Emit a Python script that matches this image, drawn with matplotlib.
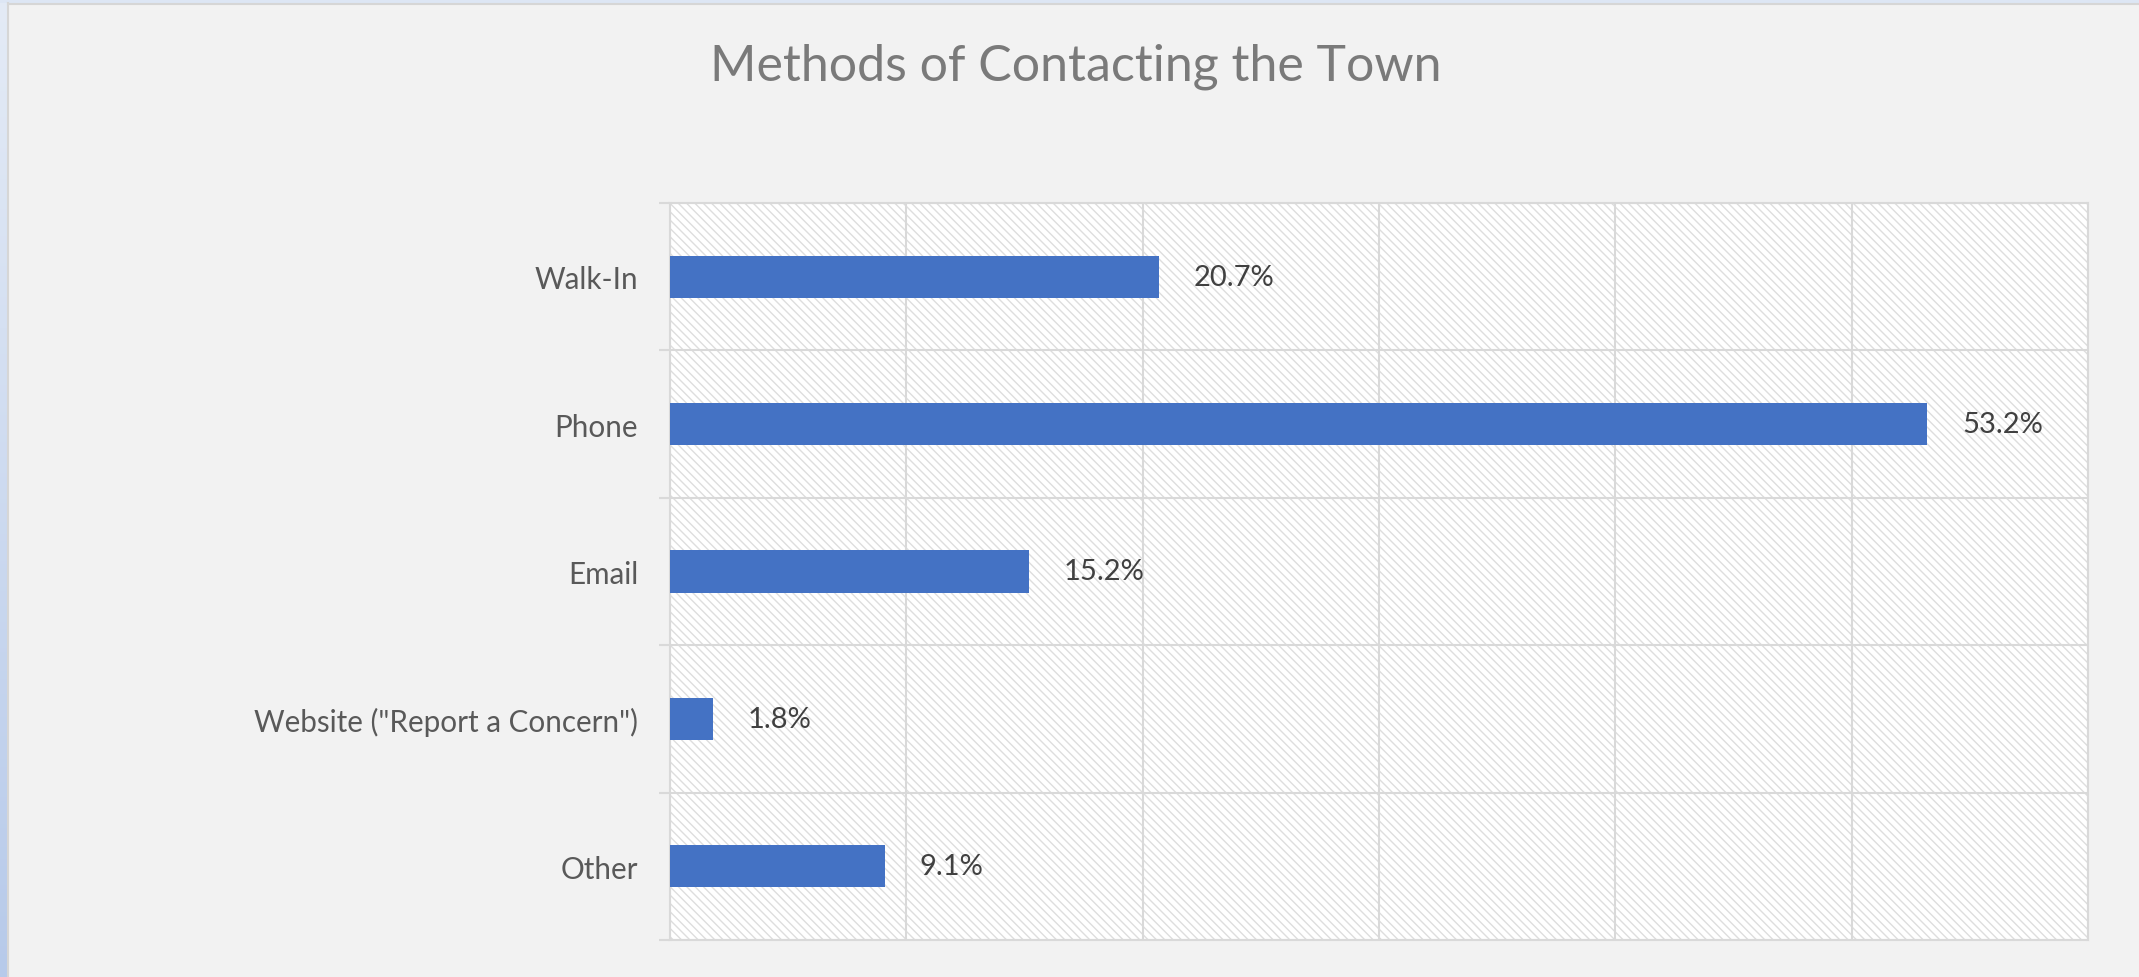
import matplotlib
matplotlib.use("Agg")
import matplotlib.pyplot as plt
import numpy as np
from matplotlib.patches import Rectangle
from matplotlib.colors import LinearSegmentedColormap

categories = ["Walk-In", "Phone", "Email", 'Website ("Report a Concern")', "Other"]
values = [20.7, 53.2, 15.2, 1.8, 9.1]
value_labels = ["20.7%", "53.2%", "15.2%", "1.8%", "9.1%"]
title = "Methods of Contacting the Town"

W, H, DPI = 2139, 978, 100
plt.rcParams['hatch.linewidth'] = 1.0
plt.rcParams['font.family'] = ['Lato', 'DejaVu Sans']

fig = plt.figure(figsize=(W / DPI, H / DPI), dpi=DPI, facecolor='#F2F2F2')

# window chrome: left gradient strip and top strip
ax_strip = fig.add_axes([0, 0, 8 / W, 1])
grad = np.linspace(0, 1, 256).reshape(-1, 1)
cm = LinearSegmentedColormap.from_list('c', ['#E4EBF6', '#B7CAEA'])
ax_strip.imshow(grad, aspect='auto', cmap=cm, extent=[0, 1, 0, 1], origin='upper')
ax_strip.axis('off')
fig.patches.append(Rectangle((0, 1 - 4 / H), 1, 4 / H, transform=fig.transFigure,
                             facecolor='#DDE6F4', edgecolor='none', zorder=0))
fig.lines.append(plt.Line2D([8 / W, 8 / W], [0, 1 - 4 / H], transform=fig.transFigure,
                            color='#D6D6D6', lw=1.5))
fig.lines.append(plt.Line2D([8 / W, 1], [1 - 5 / H, 1 - 5 / H], transform=fig.transFigure,
                            color='#D6D6D6', lw=1.5))

left, right, top, bottom = 670, 2088, 204, 941
ax = fig.add_axes([left / W, 1 - bottom / H, (right - left) / W, (bottom - top) / H])
ax.set_facecolor('white')
bg = Rectangle((0, 0), 1, 1, transform=ax.transAxes, facecolor='white',
               edgecolor='#DEDEDE', hatch='\\\\\\\\', linewidth=0, zorder=0)
ax.add_patch(bg)

y = np.arange(len(categories))
ax.barh(y, values, height=0.285, color='#4472C4', zorder=3)
ax.set_xlim(0, 60)
ax.set_ylim(len(categories) - 0.5, -0.5)

for yi, v, lab in zip(y, values, value_labels):
    ax.annotate(lab, (v, yi), xytext=(25, 0), textcoords='offset points',
                va='center', ha='left', fontsize=21, color='#404040', zorder=4)

ax.set_xticks(np.arange(0, 61, 10))
ax.xaxis.grid(True, color='#D9D9D9', lw=1.5, zorder=1)
ax.tick_params(axis='x', length=0, labelbottom=False)
ax.set_yticks(y)
ax.set_yticklabels(categories, fontsize=21.3, color='#595959')
ax.set_yticks(np.arange(-0.5, len(categories), 1), minor=True)
ax.yaxis.grid(True, which='minor', color='#D9D9D9', lw=1.5, zorder=1)
ax.tick_params(axis='y', which='major', length=0, pad=23)
ax.tick_params(axis='y', which='minor', length=8, width=1.5, color='#D9D9D9')
ax.set_axisbelow(True)
for s in ax.spines.values():
    s.set_color('#D9D9D9')
    s.set_linewidth(1.5)

fig.text(1076 / W, 1 - 81 / H, title, ha='center', va='baseline', fontsize=36,
         color='#7A7A7A', fontweight='normal')

fig.savefig('out.png', dpi=DPI, facecolor=fig.get_facecolor())
